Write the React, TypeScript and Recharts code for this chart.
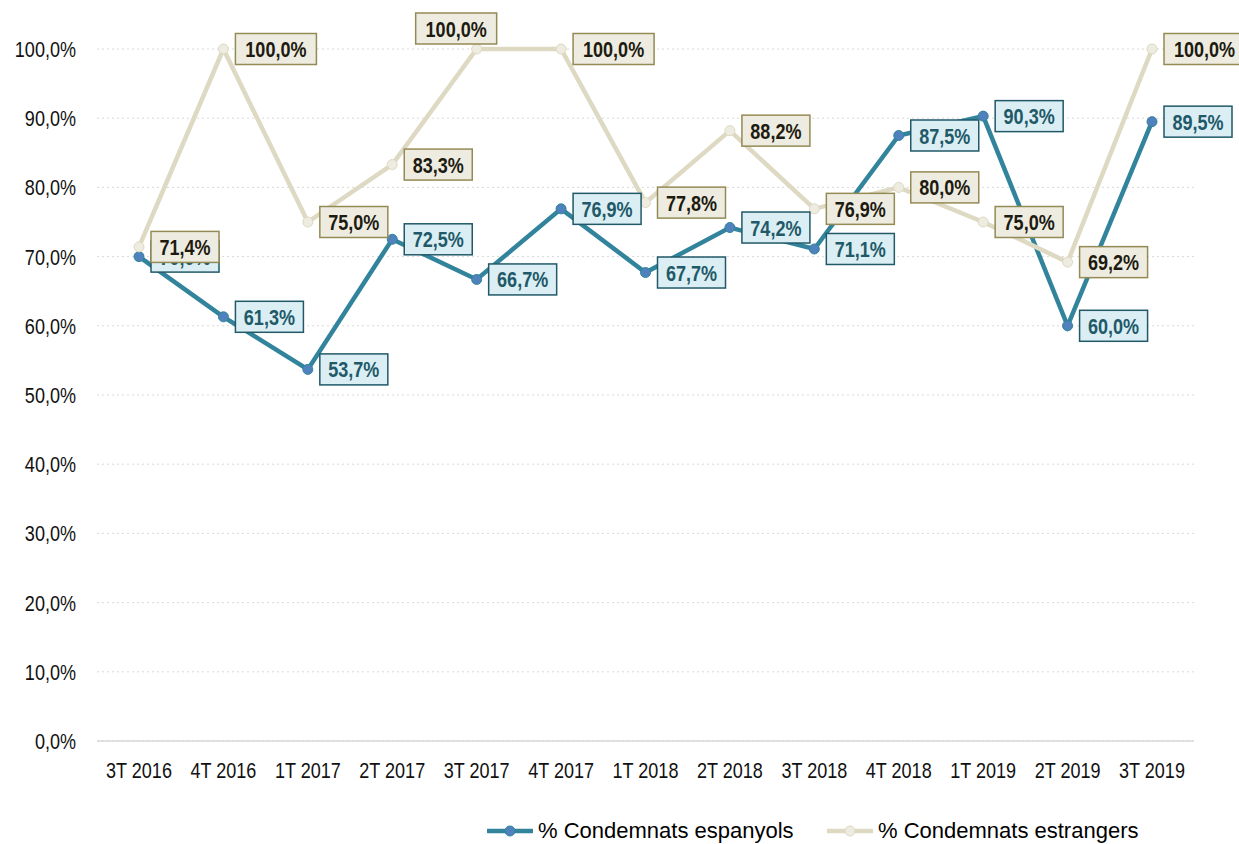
import React from 'react';
import { LineChart, Line, XAxis, YAxis, CartesianGrid, Legend } from 'recharts';

const categories = ['3T 2016', '4T 2016', '1T 2017', '2T 2017', '3T 2017', '4T 2017', '1T 2018', '2T 2018', '3T 2018', '4T 2018', '1T 2019', '2T 2019', '3T 2019'];
const espanyols = [70.0, 61.3, 53.7, 72.5, 66.7, 76.9, 67.7, 74.2, 71.1, 87.5, 90.3, 60.0, 89.5];
const estrangers = [71.4, 100.0, 75.0, 83.3, 100.0, 100.0, 77.8, 88.2, 76.9, 80.0, 75.0, 69.2, 100.0];
const yTicks = [0, 10, 20, 30, 40, 50, 60, 70, 80, 90, 100];
const seriesNames = ['% Condemnats espanyols', '% Condemnats estrangers'];

const data = categories.map((c, i) => ({ cat: c, esp: espanyols[i], est: estrangers[i] }));

const fmt = (v: number) => v.toFixed(1).replace('.', ',') + '%';

const BLUE_LINE = '#31849B';
const BLUE_DOT = '#4F81BD';
const BEIGE_LINE = '#DDD9C3';
const BEIGE_DOT = '#EEECE1';
const FONT = '"Liberation Sans", Arial, sans-serif';
const NARROW = 0.82;

const NarrowText = ({ x, y, anchor, size, weight, fill, children }: any) => (
  <g transform={`translate(${x},${y}) scale(${NARROW},1)`}>
    <text x={0} y={0} textAnchor={anchor} fontFamily={FONT} fontSize={size} fontWeight={weight} fill={fill}>
      {children}
    </text>
  </g>
);

const XTick = (props: any) => {
  const { x, y, payload } = props;
  return <NarrowText x={x} y={y + 31} anchor="middle" size={22} weight="normal" fill="#111">{payload.value}</NarrowText>;
};

const YTick = (props: any) => {
  const { x, y, payload } = props;
  return <NarrowText x={x} y={y + 8} anchor="end" size={22} weight="normal" fill="#111">{fmt(payload.value)}</NarrowText>;
};

const makeLabel = (kind: 'esp' | 'est') => (props: any) => {
  const { cx, cy, value, index } = props;
  if (cx == null || cy == null || value == null) return <g key={`l-${kind}-${index}`} />;
  const v = Array.isArray(value) ? value[1] : value;
  const text = fmt(v);
  const w = text.length * 13 + 3;
  const h = 31;
  let bx = cx + 12;
  let by = cy - h / 2;
  if (kind === 'est' && index === 4) {
    bx = cx - 61;
    by = cy - 36;
  }
  const fill = kind === 'esp' ? '#DBEEF4' : '#EEECE1';
  const stroke = kind === 'esp' ? '#215968' : '#948A54';
  const color = kind === 'esp' ? '#215968' : '#1D1B10';
  return (
    <g key={`l-${kind}-${index}`}>
      <rect x={bx} y={by} width={w} height={h} fill={fill} stroke={stroke} strokeWidth={1.5} />
      <NarrowText x={bx + w / 2} y={by + h / 2 + 8} anchor="middle" size={22} weight="bold" fill={color}>
        {text}
      </NarrowText>
    </g>
  );
};

const renderLegend = () => (
  <div style={{ position: 'relative', height: 30, fontFamily: FONT, fontSize: 22, color: '#000' }}>
    {[0, 1].map((i) => (
      <div
        key={i}
        style={{ position: 'absolute', left: i === 0 ? 487 : 827, top: 14, display: 'flex', alignItems: 'center', whiteSpace: 'nowrap', lineHeight: '25px' }}
      >
        <svg width={46} height={20} style={{ display: 'block' }}>
          <line x1={1} y1={10} x2={45} y2={10} stroke={i === 0 ? BLUE_LINE : BEIGE_LINE} strokeWidth={4.5} strokeLinecap="round" />
          <circle cx={23} cy={10} r={5} fill={i === 0 ? BLUE_DOT : BEIGE_DOT} stroke={i === 0 ? BLUE_LINE : BEIGE_LINE} strokeWidth={1} />
        </svg>
        <span style={{ marginLeft: 5 }}>{seriesNames[i]}</span>
      </div>
    ))}
  </div>
);

export default function App() {
  return (
    <div style={{ position: 'absolute', left: 0, top: 0, width: 1239, height: 844, background: '#fff', overflow: 'hidden' }}>
      <LineChart width={1239} height={844} data={data} margin={{ top: 49, right: 45, left: 0, bottom: 10 }}>
        <CartesianGrid horizontal vertical={false} stroke="#D9D9D9" strokeDasharray="2 3" />
        <XAxis
          dataKey="cat"
          axisLine={{ stroke: '#D9D9D9', strokeWidth: 1.5 }}
          tickLine={false}
          tickMargin={0}
          height={63}
          interval={0}
          padding={{ left: 42, right: 42 }}
          tick={<XTick />}
        />
        <YAxis
          domain={[0, 100]}
          ticks={yTicks}
          width={97}
          axisLine={false}
          tickLine={false}
          tickMargin={15}
          tick={<YTick />}
        />
        <Line
          dataKey="esp"
          name={seriesNames[0]}
          stroke={BLUE_LINE}
          strokeWidth={4.5}
          dot={{ r: 5, fill: BLUE_DOT, stroke: BLUE_LINE, strokeWidth: 1 }}
          activeDot={false}
          isAnimationActive={false}
        />
        <Line
          dataKey="est"
          name={seriesNames[1]}
          stroke={BEIGE_LINE}
          strokeWidth={4.5}
          dot={{ r: 5, fill: BEIGE_DOT, stroke: BEIGE_LINE, strokeWidth: 1 }}
          activeDot={false}
          isAnimationActive={false}
        />
        <Line dataKey="esp" stroke="none" legendType="none" dot={makeLabel('esp')} activeDot={false} isAnimationActive={false} />
        <Line dataKey="est" stroke="none" legendType="none" dot={makeLabel('est')} activeDot={false} isAnimationActive={false} />
        <Legend verticalAlign="bottom" content={renderLegend} wrapperStyle={{ left: 0, width: 1239 }} />
      </LineChart>
    </div>
  );
}
